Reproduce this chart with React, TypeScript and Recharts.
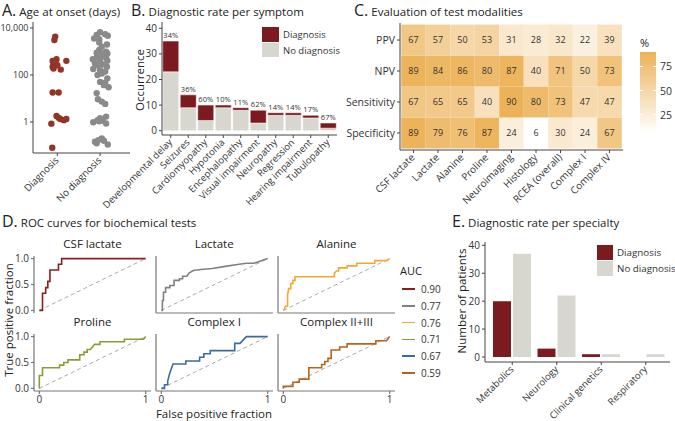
import React from 'react';
import {
  ScatterChart, Scatter, BarChart, Bar, LineChart, Line, XAxis, YAxis, LabelList, ReferenceLine,
} from 'recharts';

const RED = '#7b1a1f';
const GREY = '#d7d6cf';
const AXIS = '#444';
const INK = '#222';

// A. age at onset (days); jitter is the horizontal offset
const onsetDiag = [4300, 3100, 470, 400, 400, 370, 320, 260, 225, 190, 170, 18, 18, 1.8, 1.5, 1.35, 1.35, 1.2, 0.85, 0.08];
const jitterDiag = [-0.05, -0.07, -0.02, -0.11, 0.21, -0.05, -0.09, 0, -0.11, -0.09, 0.08, -0.11, 0.03, -0.02, 0.03, 0.07, 0.21, 0.15, -0.14, -0.12];
const onsetNoDiag = [
  6600, 5400, 4700, 3600, 3300, 2000, 1150, 980, 890, 830, 710, 470, 470, 400, 320, 280, 225, 180, 160, 140,
  100, 72, 51, 47, 30, 17, 9.3, 5.9, 1.7, 1.45, 1.2, 1.15, 0.98, 0.87, 0.2, 0.17, 0.145, 0.125, 0.11,
  560, 350, 1600, 5000, 115, 37, 7.4, 1.07, 0.16, 260, 540, 2400, 830,
];
const jitterNoDiag = [
  0, 0.12, 0.18, -0.14, -0.02, 0.16, -0.02, 0.14, -0.08, 0.04, 0.09, -0.17, 0, 0.17, -0.12, 0.06, 0.16, -0.16, 0, 0.12,
  -0.06, 0.17, 0, 0.12, 0.2, -0.08, -0.05, 0.12, 0.14, 0, -0.06, 0.06, -0.16, 0.14, 0.04, -0.04, -0.12, -0.08, 0.18,
  -0.08, 0, 0.04, -0.08, 0.04, 0.09, 0.04, -0.02, 0.09, -0.06, 0.14, -0.02, 0.17,
];
const groups = ['Diagnosis', 'No diagnosis'];

// B. diagnostic rate per symptom
const symptoms = ['Developmental delay', 'Seizures', 'Cardiomyopathy', 'Hypotonia', 'Encephalopathy', 'Visual impairment', 'Neuropathy', 'Regression', 'Hearing impairment', 'Tubulopathy'];
const symDiag = [12, 5, 6, 1, 1, 5, 1, 1, 1, 2];
const symNoDiag = [23, 9, 4, 9, 8, 3, 6, 6, 5, 1];
const symRate = ['34%', '36%', '60%', '10%', '11%', '62%', '14%', '14%', '17%', '67%'];

// C. evaluation of test modalities (%)
const tests = ['CSF lactate', 'Lactate', 'Alanine', 'Proline', 'Neuroimaging', 'Histology', 'RCEA (overall)', 'Complex I', 'Complex IV'];
const metrics = ['Specificity', 'Sensitivity', 'NPV', 'PPV'];
const ppv = [67, 57, 50, 53, 31, 28, 32, 22, 39];
const npv = [89, 84, 86, 80, 87, 40, 71, 50, 73];
const sensitivity = [67, 65, 65, 40, 90, 80, 73, 47, 47];
const specificity = [89, 79, 76, 87, 24, 6, 30, 24, 67];
const legendTicks = [25, 50, 75];

// D. ROC curves, [false positive fraction, true positive fraction]
const rocCsf = [[0, 0], [0.03, 0], [0.03, 0.33], [0.06, 0.33], [0.06, 0.44], [0.08, 0.44], [0.08, 0.56], [0.1, 0.56], [0.1, 0.78], [0.18, 0.78], [0.18, 0.89], [0.21, 0.89], [0.21, 1], [1, 1]];
const rocLactate = [[0, 0], [0.01, 0], [0.01, 0.19], [0.02, 0.19], [0.02, 0.35], [0.04, 0.35], [0.04, 0.44], [0.08, 0.44], [0.08, 0.48], [0.12, 0.48], [0.12, 0.58], [0.17, 0.58], [0.17, 0.61], [0.2, 0.61], [0.2, 0.66], [0.24, 0.66], [0.26, 0.72], [0.3, 0.77], [0.37, 0.79], [0.48, 0.81], [0.6, 0.85], [0.7, 0.88], [0.8, 0.91], [0.87, 0.91], [0.9, 0.93], [1, 1]];
const rocAlanine = [[0, 0], [0.01, 0.02], [0.02, 0.08], [0.04, 0.08], [0.04, 0.29], [0.05, 0.42], [0.07, 0.42], [0.07, 0.52], [0.09, 0.52], [0.09, 0.58], [0.11, 0.58], [0.11, 0.65], [0.48, 0.65], [0.48, 0.72], [0.5, 0.76], [0.52, 0.76], [0.52, 0.82], [0.6, 0.82], [0.6, 0.86], [0.69, 0.86], [0.69, 0.91], [0.86, 0.91], [0.86, 0.96], [0.97, 0.96], [1, 1]];
const rocProline = [[0, 0], [0, 0.25], [0.03, 0.25], [0.03, 0.4], [0.19, 0.4], [0.19, 0.45], [0.23, 0.45], [0.23, 0.5], [0.27, 0.5], [0.27, 0.55], [0.38, 0.55], [0.38, 0.65], [0.42, 0.65], [0.42, 0.7], [0.45, 0.7], [0.45, 0.75], [0.48, 0.75], [0.5, 0.8], [0.52, 0.85], [0.57, 0.85], [0.57, 0.9], [0.8, 0.9], [0.8, 0.95], [0.98, 0.95], [1, 1]];
const rocComplexI = [[0, 0], [0.03, 0], [0.03, 0.07], [0.06, 0.07], [0.06, 0.14], [0.08, 0.3], [0.11, 0.47], [0.23, 0.47], [0.23, 0.53], [0.36, 0.53], [0.36, 0.6], [0.4, 0.6], [0.4, 0.67], [0.46, 0.67], [0.46, 0.73], [0.69, 0.73], [0.69, 0.87], [0.74, 0.87], [0.8, 1], [1, 1]];
const rocComplexII = [[0, 0], [0, 0.04], [0.09, 0.04], [0.09, 0.12], [0.15, 0.12], [0.15, 0.18], [0.24, 0.18], [0.24, 0.4], [0.36, 0.4], [0.36, 0.46], [0.39, 0.46], [0.39, 0.52], [0.42, 0.52], [0.42, 0.58], [0.45, 0.58], [0.45, 0.74], [0.53, 0.74], [0.53, 0.8], [0.6, 0.8], [0.6, 0.86], [0.87, 0.86], [0.87, 0.92], [0.97, 0.92], [1, 1]];
const rocNames = ['CSF lactate', 'Lactate', 'Alanine', 'Proline', 'Complex I', 'Complex II+III'];
const rocCurves = [rocCsf, rocLactate, rocAlanine, rocProline, rocComplexI, rocComplexII];
const rocColors = ['#8b1e1e', '#808080', '#f0a832', '#8c9c36', '#3b6c9e', '#b5641f'];
const aucValues = ['0.90', '0.77', '0.76', '0.71', '0.67', '0.59'];

// E. diagnostic rate per specialty
const specialties = ['Metabolics', 'Neurology', 'Clinical genetics', 'Respiratory'];
const specDiag = [20, 3, 1, 0];
const specNoDiag = [37, 22, 1, 1];

const Title = ({ left, top, letter, text }: any) => (
  <div style={{ position: 'absolute', left, top, whiteSpace: 'nowrap', color: INK, lineHeight: '20px' }}>
    <span style={{ fontSize: 16 }}>{letter}</span>
    <span style={{ fontSize: 11.5 }}> {text}</span>
  </div>
);

const VLabel = ({ x, y, text, size = 11.5 }: any) => (
  <div style={{ position: 'absolute', left: x, top: y, transform: 'translate(-50%, -50%) rotate(-90deg)', whiteSpace: 'nowrap', fontSize: size, color: INK }}>
    {text}
  </div>
);

// x tick label slanted at 45 degrees, ending at the tick
const slantTick = (labels: string[] | null, size: number) => (p: any) => {
  const label = labels ? labels[Math.round(p.payload.value) - 1] : p.payload.value;
  const tx = p.x + 2;
  const ty = p.y + 3;
  return (
    <g key={`t-${p.index}`}>
      <text x={tx} y={ty} transform={`rotate(-45 ${tx} ${ty})`} textAnchor="end" fontSize={size} fill="#333">
        {label}
      </text>
    </g>
  );
};

const tickStyle = { fill: '#333', fontSize: 10 };
const axisStyle = { stroke: AXIS, strokeWidth: 1 };

const PanelA = () => {
  const diag = onsetDiag.map((v, i) => ({ x: 1 + jitterDiag[i], y: v }));
  const noDiag = onsetNoDiag.map((v, i) => ({ x: 2 + jitterNoDiag[i], y: v }));
  return (
    <div style={{ position: 'absolute', left: 0, top: 0 }}>
      <ScatterChart width={140} height={215} margin={{ top: 22, right: 10, bottom: 0, left: 0 }}>
        <XAxis type="number" dataKey="x" domain={[0.43, 2.7]} ticks={[1, 2]} height={62} tickSize={3} interval={0}
          axisLine={axisStyle} tickLine={axisStyle} tick={slantTick(groups, 9.8)} />
        <YAxis type="number" dataKey="y" scale="log" domain={[0.048, 18000]} ticks={[1, 100, 10000]} width={33}
          tickSize={3} tickMargin={1.5} axisLine={axisStyle} tickLine={axisStyle} tick={{ fill: '#333', fontSize: 9 }}
          allowDataOverflow interval={0} tickFormatter={(v: number) => v.toLocaleString('en-US')} />
        <Scatter data={noDiag} isAnimationActive={false}
          shape={(p: any) => <circle cx={p.cx} cy={p.cy} r={3.2} fill="#8a8a8a" />} />
        <Scatter data={diag} isAnimationActive={false}
          shape={(p: any) => <circle cx={p.cx} cy={p.cy} r={3.2} fill="#923526" />} />
      </ScatterChart>
    </div>
  );
};

const PanelB = () => {
  const data = symptoms.map((name, i) => ({ name, diag: symDiag[i], nodiag: symNoDiag[i], rate: symRate[i] }));
  return (
    <div style={{ position: 'absolute', left: 60, top: 0 }}>
      <BarChart width={280} height={225} data={data} margin={{ top: 22, right: 3, bottom: 0, left: 70 }} barCategoryGap={0.75}>
        <XAxis dataKey="name" interval={0} height={90} tickSize={3} axisLine={axisStyle} tickLine={axisStyle}
          tick={slantTick(null, 9.5)} />
        <YAxis type="number" domain={[-1.68, 42.46]} ticks={[0, 10, 20, 30, 40]} width={32} tickSize={3}
          axisLine={axisStyle} tickLine={axisStyle} tick={tickStyle} allowDataOverflow />
        <Bar dataKey="nodiag" stackId="s" fill={GREY} stroke="#fff" strokeWidth={0.5} isAnimationActive={false} />
        <Bar dataKey="diag" stackId="s" fill={RED} stroke="#fff" strokeWidth={0.5} isAnimationActive={false}>
          <LabelList dataKey="rate" position="top" offset={3} style={{ fontSize: 7.5, fill: '#333' }} />
        </Bar>
      </BarChart>
    </div>
  );
};

const C_W = 223;
const C_H = 127;
const HEAT_LOW = [255, 255, 255];
const HEAT_HIGH = [236, 178, 88];
const heatColor = (v: number) => {
  const t = (v - 6) / (90 - 6);
  const c = HEAT_LOW.map((l, i) => Math.round(l + (HEAT_HIGH[i] - l) * t));
  return `rgb(${c[0]},${c[1]},${c[2]})`;
};

const PanelC = () => {
  const rows = [specificity, sensitivity, npv, ppv];
  const cells = rows.flatMap((vals, r) => vals.map((v, c) => ({ x: c + 1, y: r + 1, v })));
  const cw = C_W / 9.1;
  const ch = C_H / 4.1;
  const barTop = 52;
  const barH = 81;
  return (
    <>
      <div style={{ position: 'absolute', left: 330, top: 0 }}>
        <ScatterChart width={300} height={220} margin={{ top: 23, right: 7, bottom: 0, left: 0 }}>
          <XAxis type="number" dataKey="x" domain={[0.45, 9.55]} ticks={[1, 2, 3, 4, 5, 6, 7, 8, 9]} height={70}
            tickSize={3} axisLine={axisStyle} tickLine={axisStyle} tick={slantTick(tests, 10)} interval={0} />
          <YAxis type="number" dataKey="y" domain={[0.45, 4.55]} ticks={[1, 2, 3, 4]} width={70} tickSize={3}
            axisLine={axisStyle} tickLine={axisStyle} tick={{ fill: '#333', fontSize: 10.5 }} interval={0}
            tickFormatter={(v: number) => metrics[v - 1]} />
          <Scatter data={cells} isAnimationActive={false}
            shape={(p: any) => (
              <g>
                <rect x={p.cx - cw / 2} y={p.cy - ch / 2} width={cw} height={ch} fill={heatColor(p.payload.v)} />
                <text x={p.cx} y={p.cy} dy="0.35em" textAnchor="middle" fontSize={9} fill="#333">{p.payload.v}</text>
              </g>
            )} />
        </ScatterChart>
      </div>
      <div style={{ position: 'absolute', left: 640, top: 35, fontSize: 11, color: INK }}>%</div>
      <div style={{ position: 'absolute', left: 640, top: barTop, width: 16, height: barH, background: `linear-gradient(to bottom, ${heatColor(90)}, ${heatColor(6)})` }} />
      {legendTicks.map((t) => {
        const y = barTop + ((90 - t) / 84) * barH;
        return (
          <React.Fragment key={t}>
            <div style={{ position: 'absolute', left: 640, top: y - 0.5, width: 3, height: 1, background: '#fff' }} />
            <div style={{ position: 'absolute', left: 653, top: y - 0.5, width: 3, height: 1, background: '#fff' }} />
            <div style={{ position: 'absolute', left: 660, top: y - 8, fontSize: 10.5, lineHeight: '16px', color: '#333' }}>{t}</div>
          </React.Fragment>
        );
      })}
    </>
  );
};

const ROC_W = 117;
const ROC_H = 57;
const ROC_PAD = 10;
const Roc = ({ idx, left, top, col, row }: any) => {
  const data = rocCurves[idx].map(([fpr, tpr]) => ({ fpr, tpr }));
  const bottom = row === 1;
  const rocAxis = { stroke: '#777', strokeWidth: 1.2 };
  return (
    <>
      <div style={{ position: 'absolute', left, top: top - 20, width: ROC_W, textAlign: 'center', fontSize: 11.5, color: INK, lineHeight: '16px' }}>
        {rocNames[idx]}
      </div>
      <div style={{ position: 'absolute', left: left - 32, top: top - ROC_PAD }}>
        <LineChart width={32 + ROC_W + 4} height={ROC_PAD + ROC_H + 22} data={data} margin={{ top: ROC_PAD, right: 4, bottom: 0, left: 0 }}>
          <XAxis dataKey="fpr" type="number" domain={[-0.05, 1.05]} ticks={[0, 1]} height={22} tickSize={3}
            axisLine={col > 0 || bottom ? rocAxis : false} tickLine={bottom ? rocAxis : false}
            tick={bottom ? tickStyle : false} />
          <YAxis type="number" domain={[-0.05, 1.05]} ticks={[0, 0.5, 1]} width={32} tickSize={3}
            axisLine={rocAxis} tickLine={col === 0 ? rocAxis : false} tick={col === 0 ? tickStyle : false}
            tickFormatter={(v: number) => v.toFixed(1)} />
          <ReferenceLine segment={[{ x: 0, y: 0 }, { x: 1, y: 1 }]} stroke="#aaa" strokeDasharray="4 3" />
          <Line dataKey="tpr" type="linear" stroke={rocColors[idx]} strokeWidth={1.6} dot={false} isAnimationActive={false} />
        </LineChart>
      </div>
    </>
  );
};

const PanelD = () => {
  const lefts = [34, 155.7, 278];
  const tops = [255.7, 334];
  return (
    <>
      {rocCurves.map((_, i) => (
        <Roc key={i} idx={i} col={i % 3} row={Math.floor(i / 3)} left={lefts[i % 3]} top={tops[Math.floor(i / 3)]} />
      ))}
      <VLabel x={8} y={320} text="True positive fraction" />
      <div style={{ position: 'absolute', left: 214, top: 413, transform: 'translate(-50%, -50%)', fontSize: 11.5, color: INK, whiteSpace: 'nowrap' }}>
        False positive fraction
      </div>
      <div style={{ position: 'absolute', left: 400, top: 263, fontSize: 11, color: INK }}>AUC</div>
      {aucValues.map((auc, i) => (
        <React.Fragment key={i}>
          <div style={{ position: 'absolute', left: 402, top: 289 + i * 16.8 - 0.8, width: 13, height: 1.6, background: rocColors[i] }} />
          <div style={{ position: 'absolute', left: 421, top: 289 + i * 16.8 - 8, fontSize: 10, lineHeight: '16px', color: '#333' }}>{auc}</div>
        </React.Fragment>
      ))}
    </>
  );
};

const PanelE = () => {
  const data = specialties.map((name, i) => ({ name, diag: specDiag[i], nodiag: specNoDiag[i] }));
  return (
    <div style={{ position: 'absolute', left: 440, top: 225 }}>
      <BarChart width={235} height={196} data={data} margin={{ top: 17, right: 5, bottom: 0, left: 0 }} barCategoryGap={3} barGap={2}>
        <XAxis dataKey="name" interval={0} height={59} tickSize={3} padding={{ left: 5, right: 2 }}
          axisLine={axisStyle} tickLine={axisStyle} tick={slantTick(null, 9.5)} />
        <YAxis type="number" domain={[-1.79, 41.18]} ticks={[0, 10, 20, 30, 40]} width={45} tickSize={3}
          axisLine={axisStyle} tickLine={axisStyle} tick={tickStyle} allowDataOverflow />
        <Bar dataKey="diag" fill={RED} isAnimationActive={false} />
        <Bar dataKey="nodiag" fill={GREY} isAnimationActive={false} />
      </BarChart>
    </div>
  );
};

const Legend = ({ left, top, size, gap, font }: any) => (
  <>
    {[RED, GREY].map((c, i) => (
      <React.Fragment key={c}>
        <div style={{ position: 'absolute', left, top: top + i * gap, width: size, height: gap - 1, background: c }} />
        <div style={{ position: 'absolute', left: left + size + 4, top: top + i * gap, fontSize: font, lineHeight: `${gap}px`, color: '#333', whiteSpace: 'nowrap' }}>
          {groups[i]}
        </div>
      </React.Fragment>
    ))}
  </>
);

export default function App() {
  return (
    <div style={{ position: 'absolute', left: 0, top: 0, width: 675, height: 421, overflow: 'hidden', background: '#fff', fontFamily: '"Open Sans", sans-serif' }}>
      <Title left={2} top={0} letter="A." text="Age at onset (days)" />
      <Title left={131} top={0} letter="B." text="Diagnostic rate per symptom" />
      <Title left={354} top={0} letter="C." text="Evaluation of test modalities" />
      <Title left={2} top={211} letter="D." text="ROC curves for biochemical tests" />
      <Title left={452} top={211} letter="E." text="Diagnostic rate per specialty" />
      <PanelA />
      <PanelB />
      <VLabel x={139} y={80} text="Occurrence" />
      <Legend left={262} top={27} size={17} gap={15.5} font={9.5} />
      <PanelC />
      <PanelD />
      <PanelE />
      <VLabel x={461} y={301} text="Number of patients" />
      <Legend left={597} top={245} size={16} gap={16} font={9.8} />
    </div>
  );
}
